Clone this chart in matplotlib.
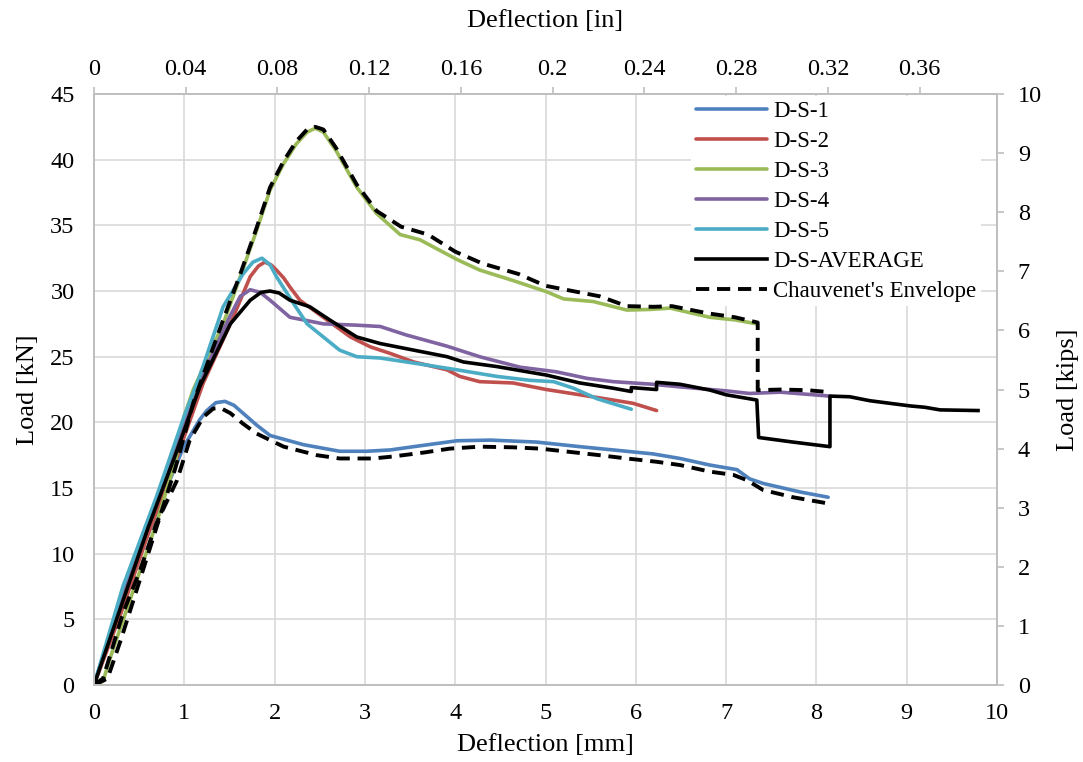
import numpy as np
import matplotlib
matplotlib.use('Agg')
import matplotlib.pyplot as plt

plt.rcParams['font.family'] = ['Liberation Serif', 'DejaVu Serif']

# Dados (deflexao [mm], carga [kN])
x_ds1 = [0, 0.32, 0.69, 0.99, 1.17, 1.25, 1.35, 1.45, 1.55, 1.65, 1.8, 1.95, 2.32, 2.72, 3.02, 3.28, 3.54, 4.02,
         4.39, 4.9, 5.38, 5.75, 6.19, 6.49, 6.82, 7.12, 7.26, 7.41, 7.82, 8.13]
y_ds1 = [0, 6.7, 13.1, 18.1, 20.2, 20.9, 21.5, 21.6, 21.3, 20.7, 19.8, 19.0, 18.3, 17.8, 17.8, 17.9, 18.15, 18.6,
         18.65, 18.5, 18.15, 17.9, 17.6, 17.25, 16.75, 16.4, 15.7, 15.35, 14.7, 14.3]

x_ds2 = [0, 0.3, 0.6, 0.9, 1.21, 1.51, 1.73, 1.82, 1.89, 1.96, 2.02, 2.1, 2.17, 2.28, 2.4, 2.54, 2.84, 3.06,
         3.28, 3.54, 3.91, 4.05, 4.27, 4.64, 5.01, 5.38, 5.75, 5.97, 6.23]
y_ds2 = [0, 5.5, 11.5, 17, 23.0, 27.5, 31.1, 31.9, 32.2, 32.0, 31.6, 31.0, 30.3, 29.3, 28.7, 28.0, 26.5, 25.75,
         25.25, 24.6, 24.0, 23.5, 23.1, 23.0, 22.5, 22.1, 21.7, 21.45, 20.9]

x_ds3 = [0, 0.1, 0.2, 0.4, 0.7, 0.9, 1.0, 1.1, 1.43, 1.62, 1.8, 1.95, 2.1, 2.24, 2.36, 2.45, 2.54, 2.68,
         2.91, 3.13, 3.39, 3.61, 4.02, 4.27, 4.64, 5.01, 5.2, 5.53, 5.9, 6.16, 6.38, 6.82, 7.1, 7.34]
y_ds3 = [0, 0.3, 2.5, 6.5, 12.5, 17, 20.5, 22.5, 27.5, 31.1, 34.6, 37.7, 39.7, 41.2, 42.1, 42.4, 42.1, 40.7,
         37.9, 35.9, 34.3, 33.9, 32.4, 31.6, 30.8, 29.95, 29.4, 29.2, 28.55, 28.6, 28.7, 28.0, 27.8, 27.5]

x_ds4 = [0, 0.3, 0.6, 0.9, 1.2, 1.5, 1.62, 1.73, 1.84, 1.95, 2.17, 2.32, 2.54, 2.91, 3.17, 3.46, 3.91, 4.27,
         4.72, 5.12, 5.46, 5.75, 6.19, 6.49, 7.0, 7.26, 7.6, 8.15]
y_ds4 = [0, 6.5, 12.5, 18, 23.5, 28.0, 29.6, 30.1, 29.9, 29.3, 28.0, 27.8, 27.5, 27.4, 27.3, 26.65, 25.8, 25.0,
         24.2, 23.85, 23.35, 23.1, 22.9, 22.7, 22.4, 22.2, 22.3, 22.0]

x_ds5 = [0, 0.32, 0.69, 1.0, 1.17, 1.43, 1.65, 1.76, 1.86, 1.95, 2.02, 2.21, 2.36, 2.54, 2.72, 2.91, 3.17, 3.65,
         4.02, 4.46, 4.83, 5.09, 5.31, 5.57, 5.95]
y_ds5 = [0, 7.5, 14.3, 20.5, 23.5, 28.8, 31.3, 32.2, 32.5, 32.0, 31.1, 29.05, 27.5, 26.5, 25.5, 25.0, 24.9, 24.4,
         24.0, 23.5, 23.2, 23.1, 22.6, 21.8, 21.0]

x_med = [0, 0.3, 0.6, 0.9, 1.17, 1.51, 1.73, 1.85, 1.95, 2.05, 2.17, 2.39, 2.61, 2.91, 3.17, 3.54, 3.91, 4.09,
         4.46, 5.01, 5.38, 5.75, 5.95, 5.95, 6.23, 6.23, 6.49, 6.82, 7.0, 7.34, 7.36, 7.74, 8.15, 8.15,
         8.37, 8.59, 9.04, 9.2, 9.37, 9.79]
y_med = [0, 6.0, 12, 17.5, 22.7, 27.5, 29.3, 29.9, 30.0, 29.85, 29.3, 28.8, 27.8, 26.5, 26.0, 25.5, 25.0, 24.6,
         24.25, 23.6, 23.0, 22.6, 22.35, 22.65, 22.5, 23.05, 22.9, 22.46, 22.1, 21.7, 18.85, 18.5, 18.15, 22.0,
         21.95, 21.65, 21.25, 21.15, 20.95, 20.9]

x_env_sup = [0, 0.15, 0.3, 0.6, 0.9, 1.1, 1.43, 1.62, 1.8, 1.95, 2.1, 2.24, 2.36, 2.45, 2.54, 2.68, 2.91,
             3.13, 3.4, 3.7, 4.0, 4.3, 4.7, 5.0, 5.3, 5.6, 5.9, 6.2, 6.4, 6.8, 7.1, 7.35, 7.35, 7.6, 7.9, 8.15]
y_env_sup = [0, 0.5, 3.5, 10, 16.5, 21.5, 27.8, 31.3, 34.8, 37.9, 39.9, 41.4, 42.3, 42.5, 42.3, 40.9, 38.1,
             36.1, 34.9, 34.3, 33.0, 32.1, 31.3, 30.4, 30.0, 29.6, 28.85, 28.8, 28.85, 28.3, 28.0, 27.6, 22.45,
             22.5, 22.45, 22.3]

x_env_inf = [0, 0.1, 0.32, 0.51, 0.69, 0.92, 1.06, 1.21, 1.32, 1.4, 1.51, 1.65, 1.8, 2.1, 2.47, 2.72, 3.09,
             3.31, 3.65, 3.94, 4.27, 4.64, 4.94, 5.27, 5.6, 5.9, 6.23, 6.49, 6.82, 7.08, 7.23, 7.41, 7.74, 8.15]
y_env_inf = [0, 0.5, 5.45, 8.75, 12.3, 15.6, 18.65, 20.4, 21.05, 21.1, 20.7, 19.9, 19.15, 18.15, 17.5, 17.25,
             17.25, 17.4, 17.7, 18.0, 18.15, 18.1, 18.0, 17.75, 17.5, 17.25, 17.0, 16.75, 16.25, 16.0, 15.6,
             14.85, 14.3, 13.8]

series = [
    ('D-S-1', x_ds1, y_ds1, '#4f81bd'),
    ('D-S-2', x_ds2, y_ds2, '#c0504d'),
    ('D-S-3', x_ds3, y_ds3, '#9bbb59'),
    ('D-S-4', x_ds4, y_ds4, '#8064a2'),
    ('D-S-5', x_ds5, y_ds5, '#4bacc6'),
]

cinza = '#bfbfbf'
fig = plt.figure(figsize=(10.83, 7.62), dpi=100)
ax = fig.add_axes([0.0868, 0.101, 0.8338, 0.7756])

for nome, xs, ys, cor in series:
    ax.plot(xs, ys, color=cor, lw=2.6, label=nome, solid_capstyle='round', solid_joinstyle='round')
ax.plot(x_med, y_med, color='black', lw=2.6, label='D-S-AVERAGE', solid_joinstyle='round')
ax.plot(x_env_sup, y_env_sup, color='black', lw=2.8, ls=(0, (3.4, 2.0)), label="Chauvenet's Envelope")
ax.plot(x_env_inf, y_env_inf, color='black', lw=2.8, ls=(0, (3.4, 2.0)))

ax.set_xlim(0, 10)
ax.set_ylim(0, 45)
ax.set_xticks(np.arange(0, 11, 1))
ax.set_yticks(np.arange(0, 46, 5))
ax.grid(True, color='#d9d9d9', lw=1.2)
ax.set_axisbelow(True)
ax.tick_params(axis='x', length=0, labelsize=17.5, pad=13)
ax.tick_params(axis='y', length=0, labelsize=17.5, pad=14)
for s in ax.spines.values():
    s.set_color(cinza)
    s.set_linewidth(1.2)
ax.set_xlabel('Deflection [mm]', fontsize=19, labelpad=7)
ax.set_ylabel('Load [kN]', fontsize=19, labelpad=8)

# eixo superior em polegadas
axt = ax.twiny()
axt.set_xlim(0, 10 / 25.4)
tt = np.round(np.arange(0, 0.37, 0.04), 2)
axt.set_xticks(tt)
axt.set_xticklabels(['0' if v == 0 else ('%g' % v) for v in tt])
axt.tick_params(length=5, color=cinza, width=1.2, labelsize=17.5, pad=5)
axt.set_xlabel('Deflection [in]', fontsize=19, labelpad=23)

# eixo direito em kips
axr = ax.twinx()
axr.set_ylim(0, 10)
axr.set_yticks(np.arange(0, 11, 1))
axr.tick_params(length=5, color=cinza, width=1.2, labelsize=17.5, pad=10)
axr.set_ylabel('Load [kips]', fontsize=19, labelpad=11)
for a in (axt, axr):
    for s in a.spines.values():
        s.set_color(cinza)
        s.set_linewidth(1.2)

leg = ax.legend(loc='upper right', bbox_to_anchor=(0.985, 1.0), fontsize=16.5, frameon=True,
                fancybox=False, edgecolor='none', framealpha=1, handlelength=3.1,
                labelspacing=0.39, borderaxespad=0.1, handletextpad=0.3, borderpad=0.2)
leg.set_zorder(5)

fig.savefig('out.png', dpi=100)
